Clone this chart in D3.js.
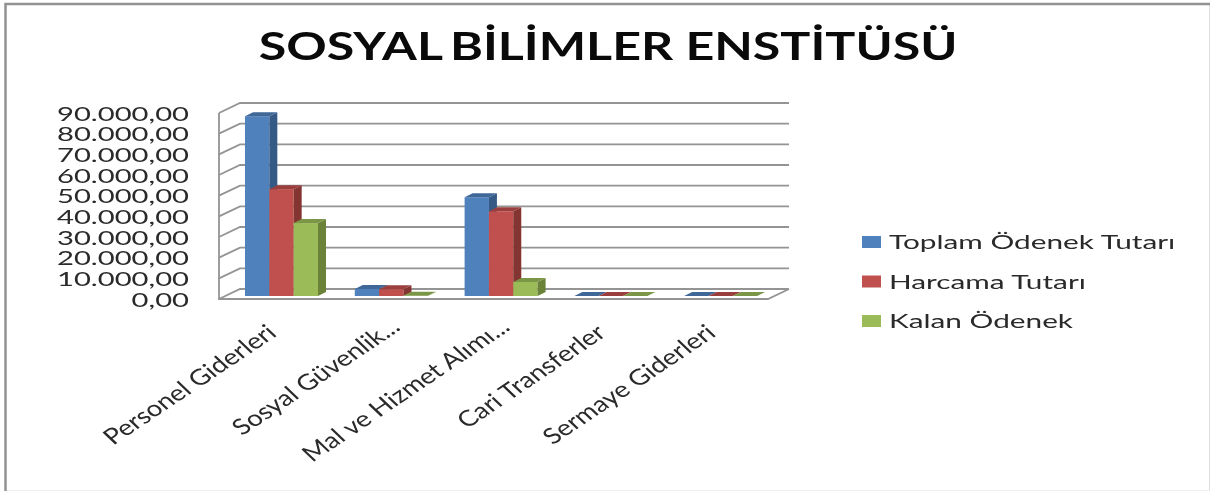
<!DOCTYPE html>
<html>
<head>
<meta charset="utf-8">
<script src="https://cdn.jsdelivr.net/npm/d3@7"></script>
<style>
html,body{margin:0;padding:0;background:#fff}
svg{display:block;filter:blur(0.45px)}
text{font-family:Lato,"Open Sans",sans-serif;fill:#2a2a2a}
</style>
</head>
<body>
<script>
const categories = ['Personel Giderleri', 'Sosyal Güvenlik...', 'Mal ve Hizmet Alımı...', 'Cari Transferler', 'Sermaye Giderleri']
const seriesNames = ['Toplam Ödenek Tutarı', 'Harcama Tutarı', 'Kalan Ödenek']
const toplam = [87000, 3400, 47800, 0, 0]
const harcama = [51700, 3300, 41000, 0, 0]
const kalan = [35300, 100, 6800, 0, 0]
const ticks = [0, 10000, 20000, 30000, 40000, 50000, 60000, 70000, 80000, 90000]
const tickLabels = ['0,00', '10.000,00', '20.000,00', '30.000,00', '40.000,00', '50.000,00', '60.000,00', '70.000,00', '80.000,00', '90.000,00']

const fronts = ['#4f81bd', '#c0504d', '#9bbb59']
const sides = ['#355a86', '#843532', '#6b8339']
const tops = ['#3f6797', '#9a3f3d', '#7c9647']

let width = 1210, height = 491
let svg = d3.select('body').append('svg')
	.attr('width', width)
	.attr('height', height)

// frame
svg.append('path').attr('d', 'M1209.5,4V491').attr('stroke', '#dddddd').attr('fill', 'none')
svg.append('path').attr('d', 'M6,490.5H1210').attr('stroke', '#eeeeee').attr('fill', 'none')
svg.append('path').attr('d', 'M5.5,491V4H1210').attr('stroke', '#929292').attr('stroke-width', 2.5).attr('fill', 'none')

let title = svg.append('text')
	.attr('transform', 'translate(608,60) scale(1.32,1)')
	.attr('text-anchor', 'middle')
	.attr('font-size', 38)
	.attr('font-weight', 700)
	.style('fill', '#0a0a0a')
title.append('tspan').text('SOSYAL')
title.append('tspan').attr('dx', -4).text(' BİLİMLER ENSTİTÜSÜ')

// wall and floor
let x0 = 219, x1 = 768, depthX = 21, depthY = -10
let y = d3.scaleLinear().domain([0, 90000]).range([299, 113])
let x = d3.scaleBand().domain(categories).range([x0, x1])
let xSeries = d3.scaleBand().domain(seriesNames).range([26, 99])
let bw = xSeries.bandwidth()
let baseY = 296

let grid = svg.append('g').attr('stroke', '#949494').attr('stroke-width', 1.8).attr('fill', 'none')
ticks.forEach(t => {
	let yy = y(t)
	grid.append('path').attr('d', `M${x0},${yy}L${x0 + depthX},${yy + depthY}H${x1 + depthX}`)
})
grid.append('path').attr('d', `M${x0},${y(90000)}V${y(0)}H${x1}L${x1 + depthX},${y(0) + depthY}`)

// bars
let bars = svg.append('g')
let allSeries = [toplam, harcama, kalan]
let dx = 8, dy = -4
categories.forEach((c, ci) => {
	seriesNames.forEach((s, si) => {
		let v = allSeries[si][ci]
		let bx = x(c) + xSeries(s)
		let top = baseY - (y(0) - y(v))
		bars.append('rect')
			.attr('x', bx).attr('y', top)
			.attr('width', bw).attr('height', baseY - top)
			.attr('fill', fronts[si])
		bars.append('path')
			.attr('d', `M${bx + bw},${top}l${dx},${dy}V${baseY + dy}l${-dx},${-dy}Z`)
			.attr('fill', sides[si])
		bars.append('path')
			.attr('d', `M${bx},${top}l${dx},${dy}h${bw}l${-dx},${-dy}Z`)
			.attr('fill', tops[si])
	})
})

// y labels
ticks.forEach((t, i) => {
	svg.append('text')
		.attr('transform', `translate(189,${y(t) + 7.5}) scale(1.46,1)`)
		.attr('text-anchor', 'end')
		.attr('font-size', 20)
		.text(tickLabels[i])
})

// category labels, the cut ones end further up
categories.forEach(c => {
	let cut = c.endsWith('...')
	svg.append('text')
		.attr('transform', `translate(${x(c) + 59 + (cut ? 14 : 0)},${cut ? 329 : 335}) scale(1.25,1) rotate(-40)`)
		.attr('text-anchor', 'end')
		.attr('font-size', 22)
		.text(c)
})

// legend
let legendY = d3.scalePoint().domain(seriesNames).range([242, 321])
seriesNames.forEach((s, i) => {
	svg.append('rect')
		.attr('x', 862).attr('y', legendY(s) - 6)
		.attr('width', 19).attr('height', 12)
		.attr('fill', fronts[i])
	svg.append('text')
		.attr('transform', `translate(889,${legendY(s) + 7}) scale(1.49,1)`)
		.attr('font-size', 20)
		.text(s)
})
</script>
</body>
</html>
